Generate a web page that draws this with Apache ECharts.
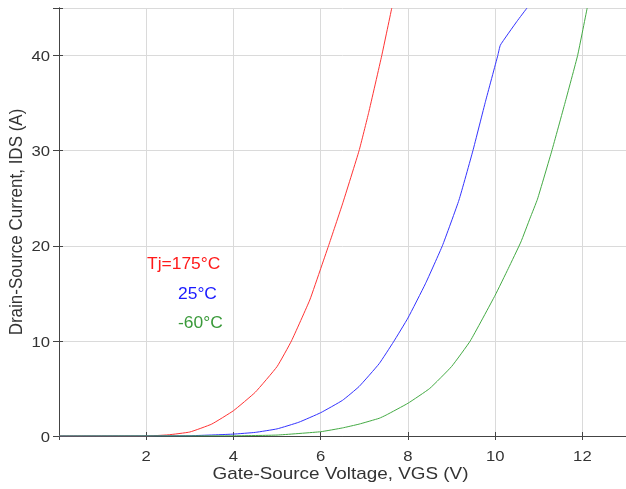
<!DOCTYPE html>
<html>
<head>
<meta charset="utf-8">
<script src="https://cdn.jsdelivr.net/npm/echarts@6/dist/echarts.min.js"></script>
<style>
html,body{margin:0;padding:0;background:#fff;}
#chart{width:626px;height:489px;}
</style>
</head>
<body>
<div id="chart"></div>
<script>
// Tj = 175°C
var redV = [0, 2, 2.5, 3, 3.5, 4, 4.5, 5, 5.33, 5.75, 6, 6.18, 6.5, 6.88, 7.1, 7.4, 7.63];
var redI = [0, 0, 0.12, 0.42, 1.25, 2.66, 4.6, 7.3, 10, 14.3, 17.6, 20, 24.4, 30, 34, 40, 45];
// Tj = 25°C
var blueV = [0, 3, 4, 4.5, 5, 5.5, 6, 6.5, 6.88, 7.34, 7.67, 8, 8.4, 8.79, 9.17, 9.49, 9.78, 10.06, 10.12, 10.5, 10.73];
var blueI = [0, 0.03, 0.2, 0.38, 0.75, 1.45, 2.45, 3.75, 5.2, 7.6, 9.9, 12.4, 16, 20, 24.8, 30, 35.2, 40, 41.1, 43.6, 45];
// Tj = -60°C
var greenV = [0, 4, 5, 6, 6.5, 6.88, 7.34, 7.5, 8, 8.5, 9, 9.43, 10, 10.3, 10.59, 10.8, 10.97, 11.3, 11.6, 11.89, 12.11];
var greenI = [0, 0.02, 0.1, 0.45, 0.85, 1.25, 1.86, 2.2, 3.44, 5.0, 7.3, 10, 14.8, 17.6, 20.4, 22.9, 24.9, 30, 35, 40, 45];

var seriesNames = ['Tj=175°C', '25°C', '-60°C'];
var xTicks = [2, 4, 6, 8, 10, 12];
var yTicks = [0, 10, 20, 30, 40];
var xTitle = 'Gate-Source Voltage, VGS (V)';
var yTitle = 'Drain-Source Current, IDS (A)';

function zip(a, b) { return a.map(function (v, i) { return [v, b[i]]; }); }

var FONT = '"Liberation Sans", Arial, Helvetica, sans-serif';
var STRETCH = 1.11;
var chart = echarts.init(document.getElementById('chart'), null, {renderer: 'canvas'});

var axisLineStyle = {color: '#444', width: 1};
var option = {
  animation: false,
  backgroundColor: '#fff',
  grid: {left: 59, top: 8, width: 570, height: 428, containLabel: false},
  xAxis: [{
    type: 'value', min: 0, max: 13, interval: 2,
    axisLine: {show: true, onZero: false, lineStyle: axisLineStyle},
    axisTick: {show: true, inside: true, length: 4, lineStyle: axisLineStyle},
    axisLabel: {show: false},
    splitLine: {show: true, lineStyle: {color: '#dadada', width: 1}}
  }, {
    type: 'value', position: 'top', min: 0, max: 13, interval: 2,
    axisLine: {show: true, lineStyle: axisLineStyle},
    axisTick: {show: true, inside: true, length: 4, lineStyle: axisLineStyle},
    axisLabel: {show: false}, splitLine: {show: false}
  }],
  yAxis: [{
    type: 'value', min: 0, max: 45, interval: 10,
    axisLine: {show: true, onZero: false, lineStyle: axisLineStyle},
    axisTick: {show: true, inside: true, length: 4, lineStyle: axisLineStyle},
    axisLabel: {show: false},
    splitLine: {show: true, lineStyle: {color: '#dadada', width: 1}}
  }, {
    type: 'value', position: 'right', min: 0, max: 45, interval: 10,
    axisLine: {show: true, lineStyle: axisLineStyle},
    axisTick: {show: true, inside: true, length: 6, lineStyle: axisLineStyle},
    axisLabel: {show: false}, splitLine: {show: false}
  }],
  series: [
    {name: seriesNames[0], type: 'line', data: zip(redV, redI), showSymbol: false, symbol: 'none',
      smooth: 0.12, lineStyle: {color: '#ff3333', width: 1}, z: 5},
    {name: seriesNames[1], type: 'line', data: zip(blueV, blueI), showSymbol: false, symbol: 'none',
      smooth: 0.12, lineStyle: {color: '#3333ff', width: 1}, z: 5},
    {name: seriesNames[2], type: 'line', data: zip(greenV, greenI), showSymbol: false, symbol: 'none',
      smooth: 0.12, lineStyle: {color: '#44aa44', width: 1}, z: 5}
  ]
};
chart.setOption(option);

// Text drawn as graphics, positioned through the chart's own scales
var g = [];
var x0 = chart.convertToPixel({xAxisIndex: 0}, 0);
var x1 = chart.convertToPixel({xAxisIndex: 0}, 13);
var y0 = chart.convertToPixel({yAxisIndex: 0}, 0);
var y1 = chart.convertToPixel({yAxisIndex: 0}, 45);
xTicks.forEach(function (t) {
  g.push({type: 'text', x: chart.convertToPixel({xAxisIndex: 0}, t), y: y0 + 21, scaleX: STRETCH,
    style: {text: String(t), fill: '#333', font: '15px ' + FONT, align: 'center', verticalAlign: 'middle'}});
});
yTicks.forEach(function (t) {
  g.push({type: 'text', x: x0 - 9, y: chart.convertToPixel({yAxisIndex: 0}, t) + 1.5, scaleX: STRETCH,
    style: {text: String(t), fill: '#333', font: '15px ' + FONT, align: 'right', verticalAlign: 'middle'}});
});
g.push({type: 'text', x: (x0 + x1) / 2 - 2, y: y0 + 38, scaleX: STRETCH,
  style: {text: xTitle, fill: '#333', font: '17px ' + FONT, align: 'center', verticalAlign: 'middle'}});
g.push({type: 'text', x: 17, y: (y0 + y1) / 2, rotation: Math.PI / 2, scaleY: STRETCH,
  style: {text: yTitle, fill: '#333', font: '17px ' + FONT, align: 'center', verticalAlign: 'middle'}});
// Series annotations
var annColors = ['#ff1a1a', '#1a1aff', '#3a9a3a'];
var annLeft = [147, 178, 178];
var annY = [264.5, 294.5, 323.5];
seriesNames.forEach(function (n, i) {
  g.push({type: 'text', x: annLeft[i], y: annY[i], scaleX: 1.09,
    style: {text: n, fill: annColors[i], font: '16px ' + FONT, align: 'left', verticalAlign: 'middle'}});
});
chart.setOption({graphic: g});
</script>
</body>
</html>
